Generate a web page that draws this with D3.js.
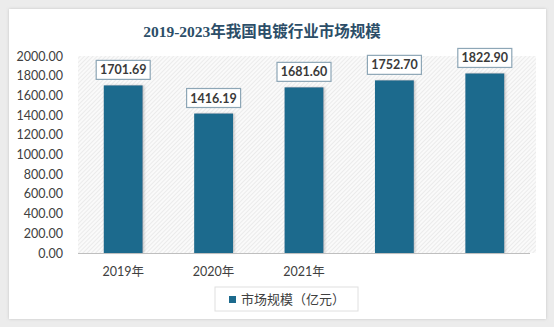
<!DOCTYPE html>
<html>
<head>
<meta charset="utf-8">
<script src="https://cdn.jsdelivr.net/npm/d3@7"></script>
<style>
  html, body { margin: 0; padding: 0; background: #e9e9e9; }
  svg { display: block; }
</style>
</head>
<body>
<svg id="chart" width="554" height="327"></svg>
<script>
// Electroplating market size in China, 2019-2023 (100 million yuan)
const categories = ["2019年", "2020年", "2021年", "2022年", "2023年"];
const values = [1701.69, 1416.19, 1681.60, 1752.70, 1822.90];
const xTickLabels = ["2019年", "2020年", "2021年", "", ""];
const yTicks = [0, 200, 400, 600, 800, 1000, 1200, 1400, 1600, 1800, 2000];
const title = "2019-2023年我国电镀行业市场规模";
const seriesName = "市场规模（亿元）";

const svg = d3.select("#chart");
const W = 554, H = 327;
const barColor = "#1c6a8d";
const textColor = "#404040";
const font = "Lato, 'Noto Sans CJK SC', sans-serif";

const defs = svg.append("defs");
const shadow = defs.append("filter").attr("id", "cardShadow")
  .attr("x", "-5%").attr("y", "-5%").attr("width", "110%").attr("height", "110%");
shadow.append("feDropShadow").attr("dx", 0).attr("dy", 0).attr("stdDeviation", 1.5)
  .attr("flood-color", "#999").attr("flood-opacity", 0.5);

const barShadow = defs.append("filter").attr("id", "barShadow")
  .attr("x", "-20%").attr("y", "-10%").attr("width", "140%").attr("height", "120%");
barShadow.append("feDropShadow").attr("dx", 1.5).attr("dy", 0).attr("stdDeviation", 1)
  .attr("flood-color", "#888").attr("flood-opacity", 0.45);

const hatch = defs.append("pattern").attr("id", "hatch")
  .attr("patternUnits", "userSpaceOnUse").attr("width", 3).attr("height", 3)
  .attr("patternTransform", "rotate(45)");
hatch.append("rect").attr("width", 3).attr("height", 3).attr("fill", "#fafafa");
hatch.append("line").attr("x1", 0).attr("y1", 0).attr("x2", 0).attr("y2", 3)
  .attr("stroke", "#e2e2e2").attr("stroke-width", 1.2);

// card background
svg.append("rect").attr("width", W).attr("height", H).attr("fill", "#ececec");
svg.append("rect")
  .attr("x", 9).attr("y", 9).attr("width", 537).attr("height", 310)
  .attr("fill", "#ffffff").attr("filter", "url(#cardShadow)");

// title
svg.append("text")
  .attr("x", 262).attr("y", 37)
  .attr("text-anchor", "middle")
  .attr("font-family", "'Liberation Serif', 'Noto Sans CJK SC', serif")
  .attr("font-weight", "bold")
  .attr("font-size", 15.5)
  .attr("fill", "#2c4e68")
  .text(title);

const plot = { left: 78, right: 530, top: 56, bottom: 253 };

const x = d3.scaleBand()
  .domain(categories)
  .range([plot.left, plot.right])
  .paddingInner(0.57)
  .paddingOuter(0.285);

const y = d3.scaleLinear()
  .domain([0, 2000])
  .range([plot.bottom, plot.top]);

// hatched plot background
svg.append("rect")
  .attr("x", plot.left).attr("y", plot.top)
  .attr("width", plot.right - plot.left + 6)
  .attr("height", plot.bottom - plot.top)
  .attr("fill", "url(#hatch)");

// y axis labels
const yAxis = d3.axisLeft(y)
  .tickValues(yTicks)
  .tickFormat(d3.format(".2f"))
  .tickSize(0)
  .tickPadding(0);
const yG = svg.append("g")
  .attr("transform", `translate(${63},0)`)
  .call(yAxis);
yG.select(".domain").remove();
yG.selectAll("text")
  .attr("font-family", font)
  .attr("font-size", 12.5)
  .attr("fill", textColor);

// bars
svg.append("g").selectAll("rect")
  .data(values)
  .join("rect")
  .attr("x", (d, i) => x(categories[i]))
  .attr("y", d => y(d))
  .attr("width", x.bandwidth())
  .attr("height", d => y(0) - y(d))
  .attr("fill", barColor)
  .attr("filter", "url(#barShadow)");

// baseline
svg.append("line")
  .attr("x1", plot.left).attr("x2", plot.right)
  .attr("y1", y(0) + 0.5).attr("y2", y(0) + 0.5)
  .attr("stroke", "#bfbfbf").attr("stroke-width", 1);

// x axis labels
const xAxis = d3.axisBottom(x)
  .tickSize(0)
  .tickPadding(14)
  .tickFormat((d, i) => xTickLabels[i]);
const xG = svg.append("g")
  .attr("transform", `translate(0,${y(0)})`)
  .call(xAxis);
xG.select(".domain").remove();
xG.selectAll("text")
  .attr("font-family", font)
  .attr("font-size", 12.5)
  .attr("fill", textColor);

// value labels in boxes
const labelG = svg.append("g").selectAll("g")
  .data(values)
  .join("g")
  .attr("transform", (d, i) =>
    `translate(${x(categories[i]) + x.bandwidth() / 2},${y(d) - 6})`);
labelG.append("rect")
  .attr("x", -27).attr("y", -19)
  .attr("width", 54).attr("height", 19)
  .attr("fill", "#ffffff")
  .attr("stroke", "#8da6b6")
  .attr("stroke-width", 1.2);
labelG.append("text")
  .attr("x", 0).attr("y", -5)
  .attr("text-anchor", "middle")
  .attr("font-family", font)
  .attr("font-weight", "bold")
  .attr("font-size", 12.5)
  .attr("fill", "#3a3a3a")
  .text(d => d3.format(".2f")(d));

// legend
const legend = svg.append("g").attr("transform", "translate(215,287)");
legend.append("rect")
  .attr("width", 143).attr("height", 24)
  .attr("fill", "#ffffff")
  .attr("stroke", "#e0e0e0");
legend.append("rect")
  .attr("x", 14).attr("y", 9)
  .attr("width", 7).attr("height", 7)
  .attr("fill", barColor);
legend.append("text")
  .attr("x", 26).attr("y", 17)
  .attr("font-family", "'Noto Sans CJK SC', sans-serif")
  .attr("font-size", 13)
  .attr("fill", textColor)
  .text(seriesName);
</script>
</body>
</html>
